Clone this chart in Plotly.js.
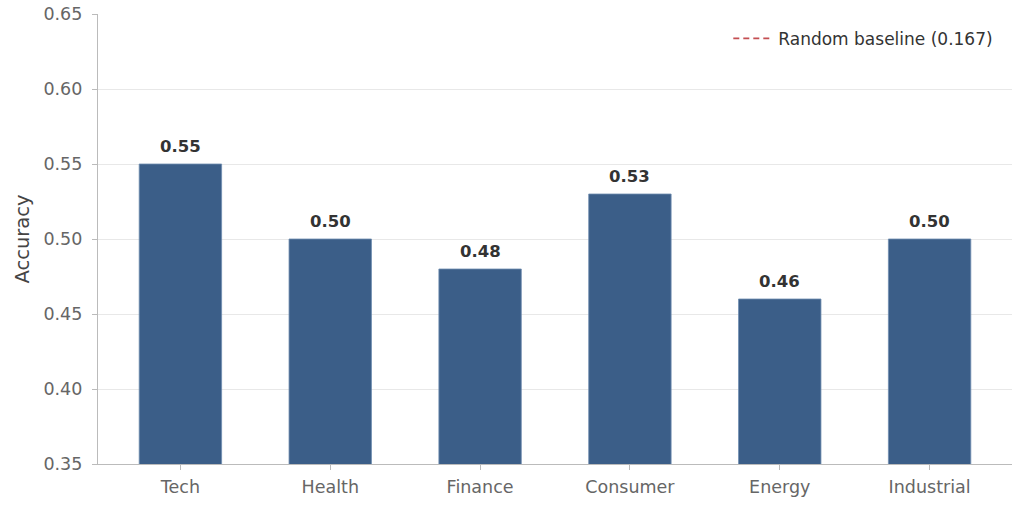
<!DOCTYPE html>
<html>
<head>
<meta charset="utf-8">
<script src="https://cdn.plot.ly/plotly-3.0.1.min.js"></script>
<style>html,body{margin:0;padding:0;background:#fff}</style>
</head>
<body>
<div id="chart" style="width:1024px;height:512px"></div>
<script>
const sectors = ['Tech', 'Health', 'Finance', 'Consumer', 'Energy', 'Industrial']
const accuracy = [0.55, 0.50, 0.48, 0.53, 0.46, 0.50]
const baseline = 0.167

var bars = {
  x: sectors,
  y: accuracy,
  type: 'bar',
  width: 0.55,
  marker: {color: '#3b5e88', line: {color: '#6f8db0', width: 0.8}},
  showlegend: false,
  hoverinfo: 'x+y'
};

var baseline_line = {
  x: [sectors[0], sectors[sectors.length - 1]],
  y: [baseline, baseline],
  type: 'scatter',
  mode: 'lines',
  line: {color: '#c44e52', dash: '6px,4px', width: 1.8},
  name: 'Random baseline (' + baseline + ')'
};

// value labels above bars
var labels = sectors.map((s, i) => ({
  x: s, y: accuracy[i],
  xref: 'x', yref: 'y',
  text: '<b>' + accuracy[i].toFixed(2) + '</b>',
  showarrow: false,
  yanchor: 'bottom',
  yshift: 6,
  font: {family: 'DejaVu Sans', size: 16.5, color: '#333333'}
}));

var layout = {
  width: 1024,
  height: 512,
  margin: {l: 98, r: 12, t: 14, b: 48},
  paper_bgcolor: '#ffffff',
  plot_bgcolor: '#ffffff',
  font: {family: 'DejaVu Sans', size: 17.5, color: '#666666'},
  annotations: labels,
  xaxis: {
    range: [-0.55, 5.55],
    showline: true, linecolor: '#bbbbbb', linewidth: 1.2,
    ticks: 'outside', ticklen: 5, tickcolor: '#bbbbbb',
    showgrid: false,
    ticklabelstandoff: 2,
    tickfont: {size: 17.5, color: '#666666'}
  },
  yaxis: {
    range: [0.35, 0.65],
    dtick: 0.05,
    tickformat: '.2f',
    showline: true, linecolor: '#bbbbbb', linewidth: 1.2,
    ticks: 'outside', ticklen: 5, tickcolor: '#bbbbbb',
    gridcolor: '#e8e8e8', gridwidth: 1,
    zeroline: false,
    ticklabelstandoff: 6,
    tickfont: {size: 17.5, color: '#666666'},
    title: {text: 'Accuracy', font: {size: 19.5, color: '#444444'}, standoff: 8}
  },
  legend: {
    x: 0.985, y: 0.985, xanchor: 'right', yanchor: 'top',
    bgcolor: 'rgba(255,255,255,0.8)',
    itemwidth: 40,
    font: {size: 17, color: '#333333'}
  },
  showlegend: true
};

Plotly.newPlot('chart', [bars, baseline_line], layout, {displayModeBar: false});
</script>
</body>
</html>
